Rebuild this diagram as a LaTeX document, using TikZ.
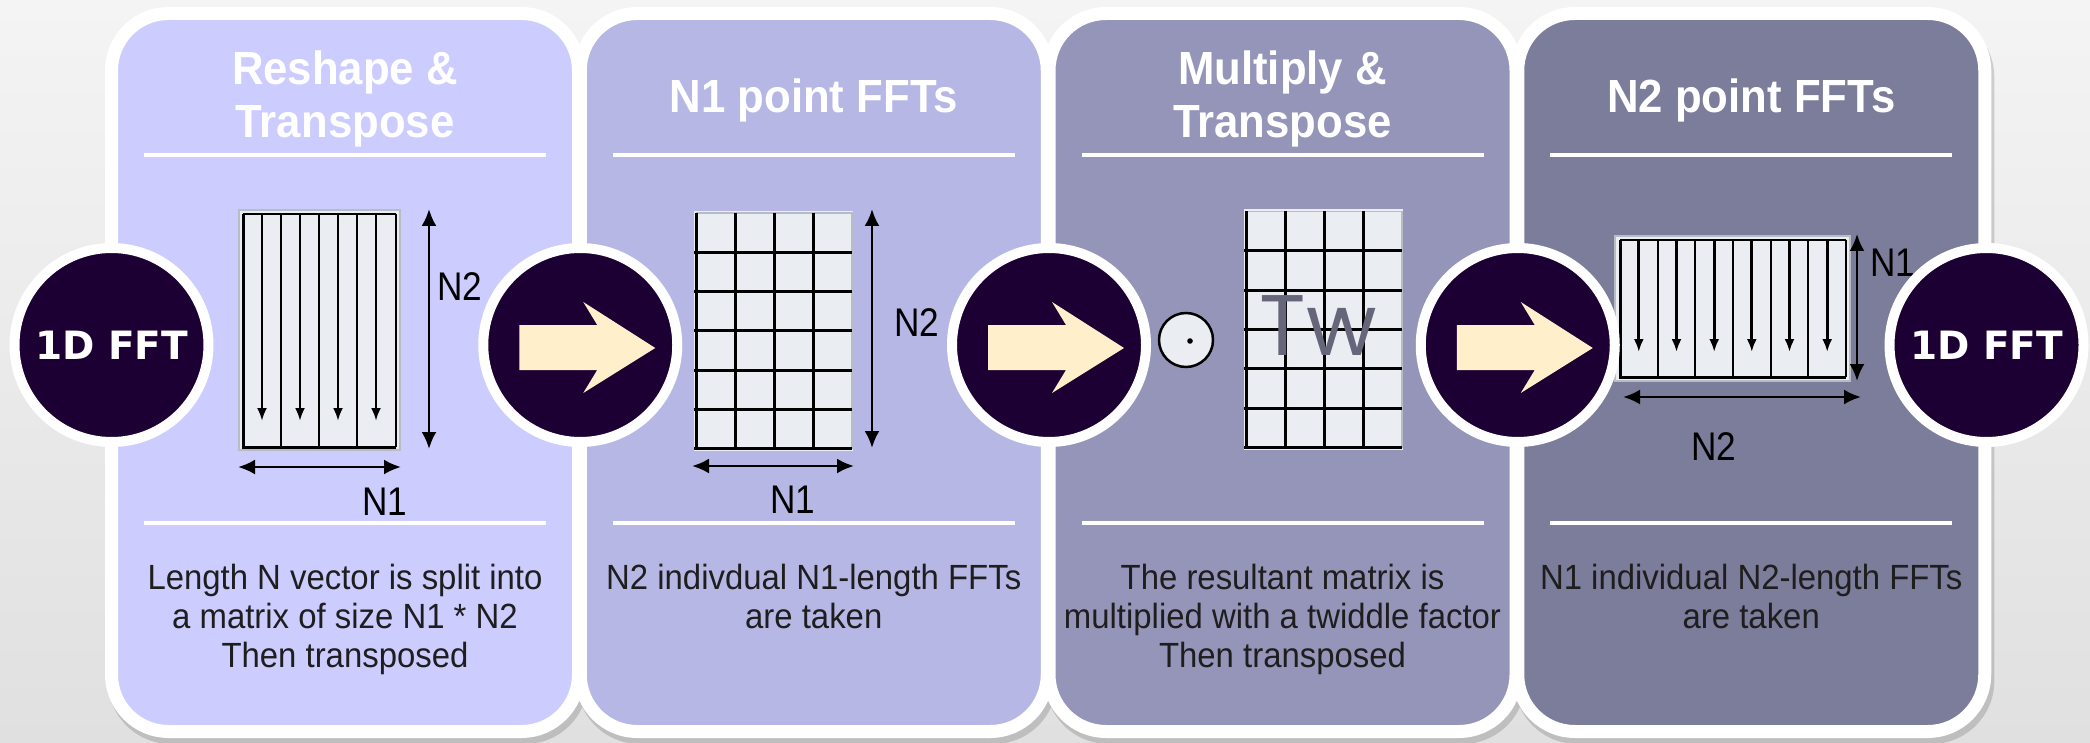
\documentclass[tikz,border=0pt]{standalone}
\usepackage{fontspec}
\setmainfont{Liberation Sans}[FakeStretch=0.94]
\newfontfamily\narrowsans{Liberation Sans}[FakeStretch=0.88]
\newfontfamily\badgefont{DejaVu Sans}
\newfontfamily\twfont{Poppins}
\usetikzlibrary{arrows.meta}

\definecolor{bgtop}{HTML}{F4F4F4}
\definecolor{bgbot}{HTML}{E0E0E0}
\definecolor{paneA}{HTML}{CCCCFF}
\definecolor{paneB}{HTML}{B7B7E5}
\definecolor{paneC}{HTML}{9595BA}
\definecolor{paneD}{HTML}{7C7C9B}
\definecolor{badge}{HTML}{1C0033}
\definecolor{cream}{HTML}{FFF0CB}
\definecolor{cell}{HTML}{EAEEF2}
\definecolor{cellframe}{HTML}{B8BCC4}
\definecolor{desccol}{HTML}{1E1E1E}
\definecolor{twcol}{HTML}{66667A}

\tikzset{
  panel/.style={draw=white, line width=13pt, rounded corners=57pt},
  head/.style={font={\fontsize{46.5}{53}\selectfont\bfseries}, text=white, anchor=base, inner sep=0pt},
  desc/.style={font={\fontsize{35}{39}\selectfont}, text=desccol, anchor=base, inner sep=0pt},
  dimlabel/.style={font={\narrowsans\fontsize{40}{44}\selectfont}, text=black, inner sep=0pt},
  sepline/.style={draw=white, line width=3.5pt},
  dimarrow/.style={draw=black, line width=2.6pt, {Latex[length=17pt,width=15pt]}-{Latex[length=17pt,width=15pt]}},
  flowarrow/.style={draw=black, line width=2.8pt, -{Latex[length=13pt,width=10pt]}},
  gridline/.style={draw=black, line width=3pt},
  thinframe/.style={draw=cellframe, line width=1.5pt},
  badgecirc/.style={circle, fill=badge, draw=white, line width=10pt, minimum size=194pt, inner sep=0pt,
    font={\badgefont\bfseries\fontsize{39}{39}\selectfont}, text=white},
}

\begin{document}
\begin{tikzpicture}[x=1pt,y=-1pt]
\useasboundingbox (0,0) rectangle (2090,743);

% backdrop
\shade[top color=bgtop, bottom color=bgbot] (0,0) rectangle (2090,743);

% soft shadows under the four panels
\foreach \i in {0,...,3} {
  \pgfmathsetmacro\xl{105+468.75*\i}
  \fill[black, opacity=0.15, rounded corners=63pt] (\xl+3,14) rectangle (\xl+483,744);
}

% the four step panels with their separator rules
\foreach \i/\c in {0/paneA,1/paneB,2/paneC,3/paneD} {
  \pgfmathsetmacro\xl{111.5+468.75*\i}
  \pgfmathsetmacro\xr{578.5+468.75*\i}
  \path[panel, fill=\c] (\xl,13.5) rectangle (\xr,731.5);
  \draw[sepline] (\xl+32.5,155) -- (\xr-32.5,155);
  \draw[sepline] (\xl+32.5,523) -- (\xr-32.5,523);
}

% headings
\node[head] (h1a) at (345,85) {Reshape \&};
\node[head] (h1b) at (345,138) {Transpose};
\node[head] (h2) at (813.75,113) {N1 point FFTs};
\node[head] (h3a) at (1282.5,85) {Multiply \&};
\node[head] (h3b) at (1282.5,138) {Transpose};
\node[head] (h4) at (1751.25,113) {N2 point FFTs};

% descriptions
\node[desc] (d1a) at (345,589) {Length N vector is split into};
\node[desc] (d1b) at (345,628) {a matrix of size N1 * N2};
\node[desc] (d1c) at (345,667) {Then transposed};
\node[desc] (d2a) at (813.75,589) {N2 indivdual N1-length FFTs};
\node[desc] (d2b) at (813.75,628) {are taken};
\node[desc] (d3a) at (1282.5,589) {The resultant matrix is};
\node[desc] (d3b) at (1282.5,628) {multiplied with a twiddle factor};
\node[desc] (d3c) at (1282.5,667) {Then transposed};
\node[desc] (d4a) at (1751.25,589) {N1 individual N2-length FFTs};
\node[desc] (d4b) at (1751.25,628) {are taken};

% step 1: N1 x N2 column matrix
\filldraw[fill=cell, thinframe] (239,210) rectangle (400,450);
\foreach \x in {281,319,357,396}
  \draw[gridline, line width=2pt] (\x,214) -- (\x,447);
\draw[black, line width=1.5pt] (243,214) -- (396,214);
\draw[gridline] (243,214) -- (243,447) -- (396,447);
\foreach \x in {262,300,338,376}
  \draw[flowarrow] (\x,214) -- (\x,421);
\draw[dimarrow] (429,209) -- (429,449);
\draw[dimarrow] (238,467) -- (401,467);
\node[dimlabel] (l1v) at (460,287) {N2};
\node[dimlabel] (l1h) at (385,502) {N1};

% steps 2 and 3: 4 x 6 grids
\foreach \gx/\gy in {696/213, 1246/211.5} {
  \fill[cell] (\gx-2,\gy-2) rectangle (\gx+157,\gy+238);
  \draw[thinframe] (\gx,\gy) -- (\gx+156,\gy) -- (\gx+156,\gy+236);
  \foreach \k in {0,1,2,3}
    \draw[gridline] (\gx+39*\k,\gy) -- (\gx+39*\k,\gy+236);
  \foreach \r in {1,...,6}
    \draw[gridline] (\gx-2,\gy+39.33*\r) -- (\gx+156,\gy+39.33*\r);
}
\draw[dimarrow] (872,209) -- (872,448);
\draw[dimarrow] (692,466) -- (854,466);
\node[dimlabel] (l2v) at (917,323) {N2};
\node[dimlabel] (l2h) at (793,500) {N1};

% step 3: elementwise product with the twiddle matrix
\node[circle, draw=black, fill=cell, line width=2.5pt, minimum size=54pt, inner sep=0pt] (odot) at (1186,340) {};
\fill[black] (1190,341) circle (2.8pt);
\node[font={\twfont\fontsize{86}{86}\selectfont}, text=twcol, inner sep=0pt] (tw) at (1318,326) {Tw};

% step 4: N2 x N1 column matrix
\filldraw[fill=cell, thinframe] (1615,236) rectangle (1850,381);
\foreach \x in {1657.7,1695.3,1733,1770.7,1808.3,1846}
  \draw[gridline, line width=2pt] (\x,240) -- (\x,377);
\draw[black, line width=1.5pt] (1620,240) -- (1846,240);
\draw[gridline] (1620,240) -- (1620,377) -- (1846,377);
\foreach \x in {1638.8,1676.5,1714.2,1751.8,1789.5,1827.2}
  \draw[flowarrow] (\x,240) -- (\x,352);
\draw[dimarrow] (1857,234) -- (1857,381);
\draw[dimarrow] (1623,397) -- (1861,397);
\node[dimlabel] (l4v) at (1893,263) {N1};
\node[dimlabel] (l4h) at (1714,447) {N2};

% badges along the flow
\node[badgecirc] (b0) at (111.5,345) {1D FFT};
\node[badgecirc] (b1) at (580.25,345) {};
\node[badgecirc] (b2) at (1049,345) {};
\node[badgecirc] (b3) at (1517.75,345) {};
\node[badgecirc] (b4) at (1986.5,345) {1D FFT};

\foreach \n in {b1,b2,b3}
  \fill[cream] ([shift={(-61,-20)}]\n.center) -- ([shift={(17,-20)}]\n.center)
    -- ([shift={(3,-43)}]\n.center) -- ([shift={(75,3)}]\n.center)
    -- ([shift={(3,48)}]\n.center) -- ([shift={(17,25)}]\n.center)
    -- ([shift={(-61,25)}]\n.center) -- cycle;
\end{tikzpicture}
\end{document}
